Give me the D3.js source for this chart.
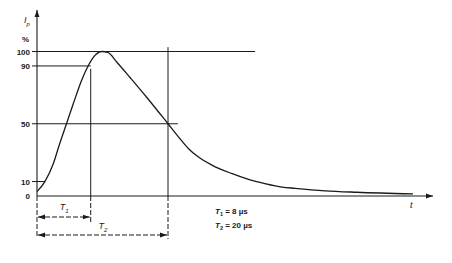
<!DOCTYPE html>
<html>
<head>
<meta charset="utf-8">
<script src="https://cdn.jsdelivr.net/npm/d3@7"></script>
<style>
  body { margin: 0; background: #fff; }
  text { font-family: "Liberation Sans", Arial, sans-serif; fill: #1a1a1a; }
</style>
</head>
<body>
<svg></svg>
<script>
// impulse current waveform, time in microseconds, current in % of peak
var timeUs = [0, 1.2, 2.5, 3.45, 4.5, 5.55, 6.8, 7.8, 8.6, 9.9, 10.8, 12.2, 14.2, 16.8, 20, 21.6, 23.1, 24.6, 26.7, 29.7, 32.3, 34.8, 37.4, 39.4, 44, 48.8, 57.4];
var currentPct = [3, 10, 22.5, 36, 50, 64, 80, 90, 96, 100, 99.4, 92.6, 82, 68, 50, 40.9, 32.9, 27.1, 21.4, 15.6, 11.5, 8.6, 6.2, 5.3, 3.6, 2.6, 1.4];
var yTickValues = [0, 10, 50, 90, 100];
var frontTime = 8.2;   // where the curve passes 90 %
var halfTime = 20;     // where the tail passes 50 %
var timeLabels = ["8 \u00b5s", "20 \u00b5s"];

var width = 452, height = 263;
var ink = "#1a1a1a";

var svg = d3.select("svg")
            .attr("width", width)
            .attr("height", height);

var x = d3.scaleLinear()
          .domain([0, 60])
          .range([37, 430]);

var y = d3.scaleLinear()
          .domain([0, 100])
          .range([196, 51.5]);

var defs = svg.append("defs");
defs.append("marker")
    .attr("id", "head")
    .attr("viewBox", "0 0 10 10")
    .attr("refX", 10).attr("refY", 5)
    .attr("markerWidth", 7).attr("markerHeight", 7)
    .attr("markerUnits", "userSpaceOnUse")
    .attr("orient", "auto-start-reverse")
    .append("path")
    .attr("d", "M0,1.5 L10,5 L0,8.5 Z")
    .attr("fill", ink);

var seg = function(x1, y1, x2, y2, dash, w) {
  return svg.append("line")
     .attr("x1", x1).attr("y1", y1)
     .attr("x2", x2).attr("y2", y2)
     .attr("stroke", ink)
     .attr("stroke-width", w || 1)
     .attr("stroke-dasharray", dash || null);
};

// axes
seg(x(0), y(0), x(0), 10, null, 1.1).attr("marker-end", "url(#head)");
seg(x(0), y(0), 433, y(0), null, 1.1).attr("marker-end", "url(#head)");
seg(x(0), y(0), x(0), 238, "5,2");

// horizontal guide lines from the tick labels
var guideEnd = { 0: 0, 10: 1.2, 50: 21.5, 90: frontTime, 100: 33.3 };
yTickValues.forEach(function(v) {
  if (v > 0) seg(32, y(v), x(guideEnd[v]), y(v));
});

// vertical markers at T1 and T2
seg(x(frontTime), y(88), x(frontTime), y(0));
seg(x(frontTime), y(0), x(frontTime), 222, "5,2");
seg(x(halfTime), y(103), x(halfTime), y(0));
seg(x(halfTime), y(0), x(halfTime), 239, "5,2");

// tick labels
svg.selectAll(".ylab")
   .data(yTickValues)
   .enter()
   .append("text")
   .attr("class", "ylab")
   .attr("x", 30)
   .attr("y", function(d) { return y(d) + 3; })
   .attr("text-anchor", "end")
   .attr("font-size", 8)
   .attr("font-weight", "bold")
   .text(function(d) { return d; });

var ip = svg.append("text").attr("x", 24).attr("y", 23)
            .attr("font-size", 9).attr("font-style", "italic");
ip.append("tspan").text("I");
ip.append("tspan").attr("dy", 2.5).attr("font-size", 6).text("p");
svg.append("text").attr("x", 22).attr("y", 42)
   .attr("font-size", 8).attr("font-weight", "bold").text("%");
svg.append("text").attr("x", 410).attr("y", 208)
   .attr("font-size", 9).attr("font-style", "italic").text("t");

// the waveform
var pts = timeUs.map(function(t, i) { return [t, currentPct[i]]; });
svg.append("path")
   .datum(pts)
   .attr("fill", "none")
   .attr("stroke", ink)
   .attr("stroke-width", 1.3)
   .attr("d", d3.line()
               .x(function(d) { return x(d[0]); })
               .y(function(d) { return y(d[1]); })
               .curve(d3.curveMonotoneX));

// dimension arrows
var dims = [
  { t: frontTime, yy: 217, name: "1", ly: 210 },
  { t: halfTime, yy: 235, name: "2", ly: 229 }
];
dims.forEach(function(d) {
  seg(x(0) + 1, d.yy, x(d.t) - 1, d.yy, "5,2")
    .attr("marker-start", "url(#head)")
    .attr("marker-end", "url(#head)");
  var lab = svg.append("text")
               .attr("x", (x(0) + x(d.t)) / 2 - 4)
               .attr("y", d.ly)
               .attr("font-size", 9)
               .attr("font-style", "italic");
  lab.append("tspan").text("T");
  lab.append("tspan").attr("dy", 2.5).attr("font-size", 6).text(d.name);
});

// T1 / T2 values
timeLabels.forEach(function(s, i) {
  var t = svg.append("text")
             .attr("x", 215)
             .attr("y", 214 + i * 14)
             .attr("font-size", 8)
             .attr("font-weight", "bold");
  t.append("tspan").attr("font-style", "italic").text("T");
  t.append("tspan").attr("dy", 2).attr("font-size", 5.5).text(i + 1);
  t.append("tspan").attr("dy", -2).text(" = " + s);
});
</script>
</body>
</html>
